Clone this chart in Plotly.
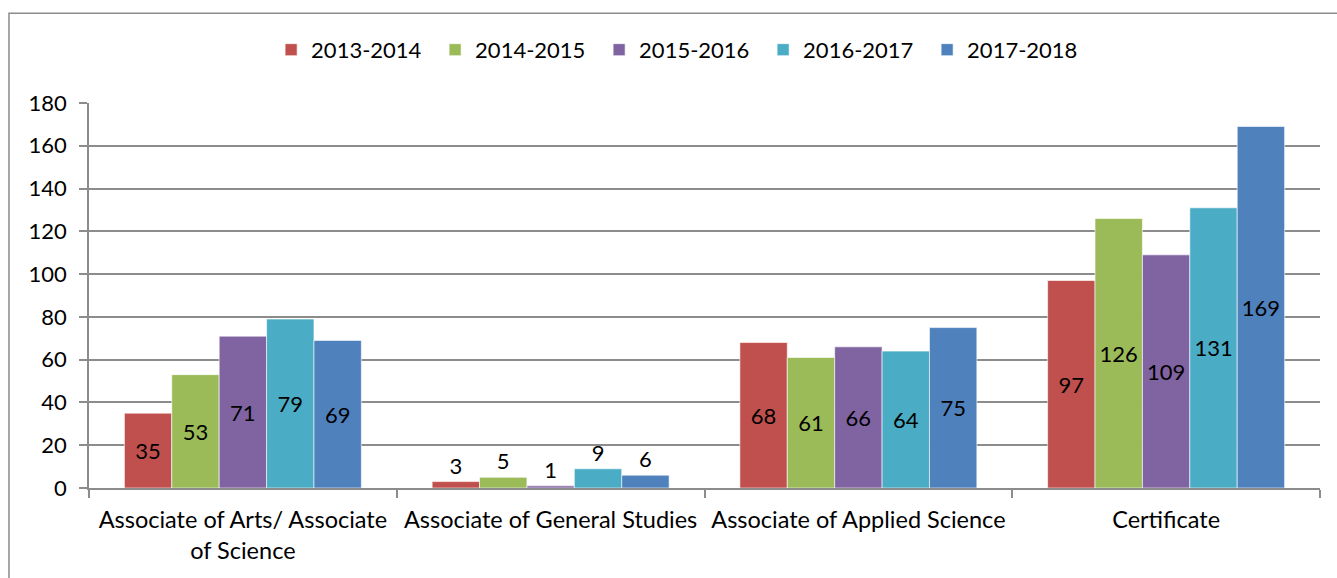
import plotly.graph_objects as go

categories = ["Associate of Arts/ Associate<br>of Science", "Associate of General Studies",
              "Associate of Applied Science", "Certificate"]
series_names = ["2013-2014", "2014-2015", "2015-2016", "2016-2017", "2017-2018"]
values_2013_2014 = [35, 3, 68, 97]
values_2014_2015 = [53, 5, 61, 126]
values_2015_2016 = [71, 1, 66, 109]
values_2016_2017 = [79, 9, 64, 131]
values_2017_2018 = [69, 6, 75, 169]
colors = ["#C0504D", "#9BBB59", "#8064A2", "#4BACC6", "#4F81BD"]
y_ticks = [0, 20, 40, 60, 80, 100, 120, 140, 160, 180]

all_values = [values_2013_2014, values_2014_2015, values_2015_2016, values_2016_2017, values_2017_2018]
FONT = "Lato, Carlito, 'Open Sans', sans-serif"

fig = go.Figure()
for name, vals, col in zip(series_names, all_values, colors):
    fig.add_trace(go.Bar(
        x=categories, y=vals, name=name,
        marker=dict(color=col, line=dict(color="rgba(255,255,255,0.6)", width=1)),
        text=[str(v) for v in vals],
        textposition=["outside" if v < 20 else "inside" for v in vals],
        insidetextanchor="middle",
        textfont=dict(size=22, color="black", family=FONT),
        cliponaxis=False,
        constraintext="none",
    ))

fig.update_layout(
    barmode="group",
    bargap=0.23,
    bargroupgap=0,
    width=1337, height=578,
    margin=dict(l=89, r=17, t=103, b=90),
    paper_bgcolor="white", plot_bgcolor="white",
    font=dict(family=FONT, size=22, color="black"),
    legend=dict(orientation="h", x=0.481, xanchor="center", y=1.138, yanchor="middle",
                font=dict(size=22), entrywidth=119, traceorder="normal"),
    shapes=[dict(type="rect", xref="paper", yref="paper", x0=-0.065, x1=1.02, y0=-0.245, y1=1.233,
                 line=dict(color="#8C8C8C", width=1.5), fillcolor="rgba(0,0,0,0)", layer="below")],
)
fig.update_yaxes(range=[0, 180], tickvals=y_ticks, showgrid=True, gridcolor="#8C8C8C", gridwidth=1.5,
                 showline=True, linecolor="#8C8C8C", linewidth=1.5, ticks="outside", ticklen=8,
                 tickcolor="#8C8C8C", tickwidth=1.5, zeroline=False, tickfont=dict(size=22),
                 ticklabelstandoff=8)
fig.update_xaxes(showline=True, linecolor="#8C8C8C", linewidth=1.5, ticks="outside", ticklen=8,
                 tickcolor="#8C8C8C", tickwidth=1.5, tickson="boundaries", tickfont=dict(size=23.5),
                 ticklabelstandoff=10)

fig.write_html("out.html", config={"displayModeBar": False},
               post_script="document.body.style.margin='0';")
